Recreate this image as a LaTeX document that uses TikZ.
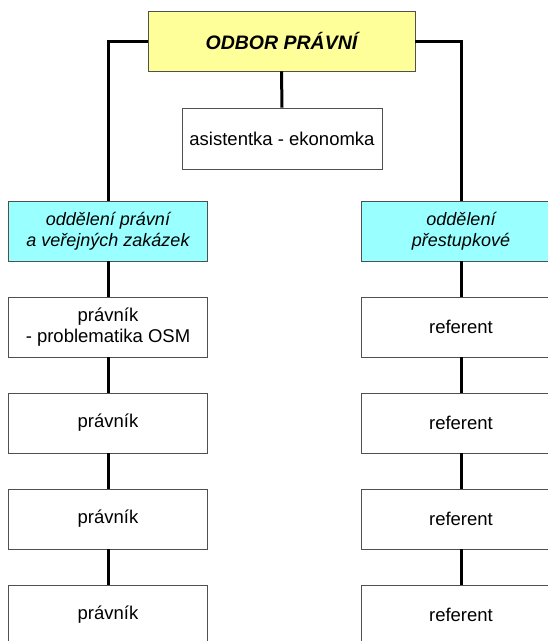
\documentclass[tikz,border=0pt]{standalone}
\usepackage{fontspec}
\setmainfont{Liberation Sans}
\definecolor{boxyellow}{HTML}{FFFF99}
\definecolor{boxcyan}{HTML}{99FFFF}
\definecolor{boxline}{HTML}{505050}
\begin{document}
\begin{tikzpicture}[x=1pt,y=-1pt,
  unit/.style={draw=boxline,line width=0.8pt,fill=white,minimum width=199pt,minimum height=60pt,
    inner sep=0pt,align=center,font=\fontsize{18.5}{20.5}\selectfont},
  headbox/.style={unit,fill=boxyellow,minimum width=267pt,font=\fontsize{19.5}{22}\selectfont\bfseries\itshape},
  deptbox/.style={unit,fill=boxcyan,font=\fontsize{18}{20.5}\selectfont\itshape},
  link/.style={line width=3pt,draw=black}]
\useasboundingbox (0,0) rectangle (548,641);
\clip (0,0) rectangle (548,641);
\fill[white] (0,0) rectangle (548,641);
% nodes
\node[headbox] (top) at (281.5,41) {ODBOR PRÁVNÍ};
\node[unit,minimum width=200pt,minimum height=61pt] (asist) at (282,138.5) {asistentka - ekonomka};
\node[deptbox] (dl) at (108,231) {oddělení právní\\a veřejných zakázek};
\node[deptbox] (dr) at (461,231) {oddělení\\přestupkové};
\node[unit] (l1) at (108,327) {právník\\- problematika OSM};
\node[unit] (l2) at (108,423) {právník};
\node[unit] (l3) at (108,519) {právník};
\node[unit] (l4) at (108,615) {právník};
\node[unit] (r1) at (461,327) {referent};
\node[unit] (r2) at (461,423) {referent};
\node[unit] (r3) at (461,519) {referent};
\node[unit] (r4) at (461,615) {referent};
% connectors
\draw[link] (top.west) -| (dl.north);
\draw[link] (top.east) -| (dr.north);
\draw[link] (top.south) -- (asist.north);
\draw[link] (dl.south) -- (l1.north);
\draw[link] (l1.south) -- (l2.north);
\draw[link] (l2.south) -- (l3.north);
\draw[link] (l3.south) -- (l4.north);
\draw[link] (dr.south) -- (r1.north);
\draw[link] (r1.south) -- (r2.north);
\draw[link] (r2.south) -- (r3.north);
\draw[link] (r3.south) -- (r4.north);
\end{tikzpicture}
\end{document}
